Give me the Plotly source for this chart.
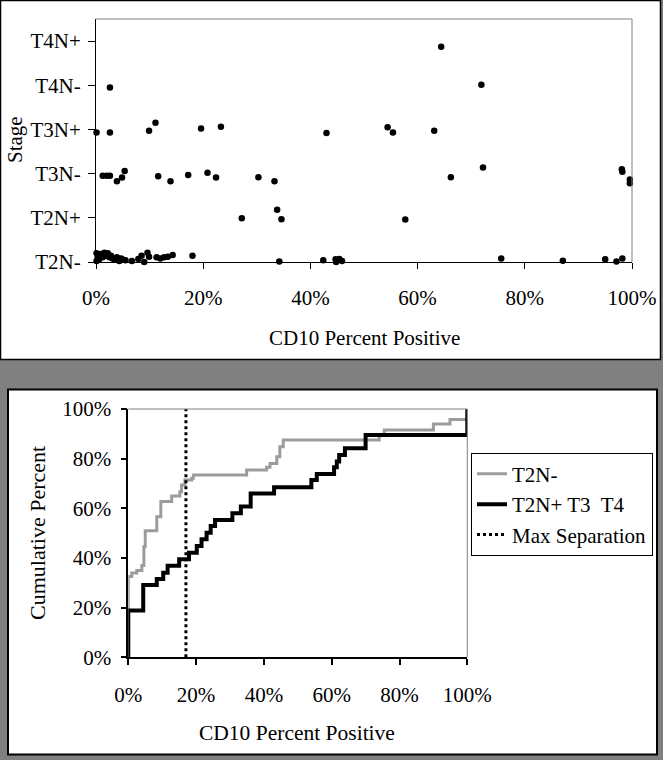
import plotly.graph_objects as go

W, H = 663, 760

# ---------------- data: top scatter ----------------
stage_labels = ["T2N-", "T2N+", "T3N-", "T3N+", "T4N-", "T4N+"]
stage_ticks = [0, 1, 2, 3, 4, 5]

# CD10 percent positive (x) and jittered stage position (y)
scatter_x = [
    # T2N-
    0.1, 0.1, 0.3, 0.6, 0.9, 1.25, 1.55, 1.9, 2.2, 2.5, 2.8, 3.1, 3.5, 3.9, 4.2, 4.35,
    4.7, 5.1, 5.5, 6.7, 7.9, 8.5, 9.0, 9.6, 9.9, 11.3, 12.0, 12.7, 13.4, 14.3, 18.0,
    19.2, 34.2, 42.4, 44.7, 44.8, 45.4, 45.9, 75.6, 77.4, 87.1, 95.0, 97.1, 98.2,
    # T2N+
    27.2, 33.8, 34.6, 57.7,
    # T3N-
    1.25, 2.0, 2.6, 3.9, 4.85, 5.35, 11.6, 13.9, 17.2, 20.8, 22.4, 30.3, 33.3, 66.2,
    72.2, 98.1, 98.2, 99.6, 99.6,
    # T3N+
    0.1, 2.6, 9.9, 11.1, 19.6, 23.3, 43.0, 54.4, 55.4, 63.1,
    # T4N-
    2.6, 71.9,
    # T4N+
    64.4,
]
scatter_y = [
    # T2N-
    0.20, 0.02, 0.12, 0.06, 0.18, 0.11, 0.21, 0.14, 0.20, 0.11, 0.14, 0.08, 0.05, 0.11,
    0.08, 0.02, 0.08, 0.05, 0.04, 0.02, 0.07, 0.14, 0.00, 0.21, 0.12, 0.11, 0.08, 0.11,
    0.12, 0.16, 0.14, -0.01, 0.01, 0.04, 0.06, 0.00, 0.07, 0.02, 0.08, -0.01, 0.03,
    0.06, 0.01, 0.08,
    # T2N+
    0.99, 1.18, 0.97, 0.96,
    # T3N-
    1.95, 1.95, 1.95, 1.83, 1.91, 2.06, 1.94, 1.83, 1.97, 2.02, 1.91, 1.92, 1.83, 1.92,
    2.14, 2.10, 2.04, 1.87, 1.78,
    # T3N+
    2.93, 2.93, 2.97, 3.15, 3.02, 3.06, 2.92, 3.05, 2.93, 2.97,
    # T4N-
    3.95, 4.01,
    # T4N+
    4.87,
]

# ---------------- data: bottom cumulative curves ----------------
pct_ticks = [0, 20, 40, 60, 80, 100]
pct_labels = ["0%", "20%", "40%", "60%", "80%", "100%"]

t2n_neg_x = [0, 0, 1.0, 2.5, 4.0, 4.6, 5.0, 8.4, 9.6, 12.8, 15.2, 15.7, 16.7, 18.7, 19.2,
             34.9, 40.8, 41.8, 43.8, 44.7, 45.7, 74.0, 75.5, 90.0, 94.9, 100]
t2n_neg_y = [0, 32.5, 34.0, 35.0, 37.0, 44.5, 51.0, 56.6, 62.7, 65.0, 66.7, 69.4, 71.4, 72.1,
             73.4, 75.4, 76.5, 78.1, 80.8, 84.8, 87.5, 89.5, 91.5, 94.0, 95.8, 95.8]

t2n_pos_x = [0, 0, 4.4, 8.4, 10.3, 11.6, 15.0, 17.9, 20.2, 21.6, 23.1, 24.3, 25.6, 30.7,
             33.2, 36.1, 43.0, 54.0, 55.6, 60.7, 61.5, 62.2, 63.9, 70.0, 100]
t2n_pos_y = [0, 18.8, 29.1, 31.5, 34.1, 36.9, 39.5, 42.1, 44.8, 47.5, 50.2, 52.9, 55.3, 58.0,
             60.7, 66.0, 68.5, 71.4, 73.8, 76.5, 78.9, 81.5, 84.2, 89.5, 100]

max_sep_x = [17.0, 17.0]
max_sep_y = [0, 100]

FONT = "Liberation Serif, 'Times New Roman', 'DejaVu Serif', serif"


def px_x(p):
    return p / W


def px_y(p):
    return 1 - p / H


fig = go.Figure()

fig.add_trace(go.Scatter(
    x=scatter_x, y=scatter_y, mode="markers", xaxis="x", yaxis="y",
    marker=dict(color="black", size=6.5), showlegend=False, cliponaxis=False,
))

fig.add_trace(go.Scatter(
    x=t2n_neg_x, y=t2n_neg_y, mode="lines", line_shape="hv", name="T2N-",
    xaxis="x2", yaxis="y2", line=dict(color="#9c9c9c", width=3),
))
fig.add_trace(go.Scatter(
    x=t2n_pos_x, y=t2n_pos_y, mode="lines", line_shape="hv", name="T2N+ T3  T4",
    xaxis="x2", yaxis="y2", line=dict(color="black", width=4),
))
fig.add_trace(go.Scatter(
    x=max_sep_x, y=max_sep_y, mode="lines", name="Max Separation",
    xaxis="x2", yaxis="y2", line=dict(color="black", width=3, dash="3px,3px"),
))

tickfont = dict(family=FONT, size=21, color="black")

top_xdom = [px_x(96), px_x(632)]
top_ydom = [px_y(262), px_y(19)]
bot_xdom = [px_x(128.3), px_x(467.3)]
bot_ydom = [px_y(657.3), px_y(409)]

common = dict(showgrid=False, zeroline=False, automargin=False)


def title_ann(text, x, y, size, angle=0):
    return dict(text=text, xref="paper", yref="paper", x=px_x(x), y=px_y(y),
                xanchor="center", yanchor="middle", textangle=angle,
                showarrow=False, font=dict(family=FONT, size=size, color="black"))


fig.update_layout(
    template="none",
    width=W, height=H,
    autosize=False,
    margin=dict(l=0, r=0, t=0, b=0, pad=0),
    paper_bgcolor="#808080",
    plot_bgcolor="white",
    font=dict(family=FONT, size=21, color="black"),
    showlegend=True,
    xaxis=dict(domain=top_xdom, anchor="y", range=[0, 100], tickmode="array",
               tickvals=pct_ticks, ticktext=pct_labels, ticks="outside", ticklen=6,
               tickcolor="black", showline=True, linecolor="black", linewidth=1,
               tickfont=tickfont, ticklabelstandoff=11, **common),
    yaxis=dict(domain=top_ydom, anchor="x", range=[0, 5.5], tickmode="array",
               tickvals=stage_ticks, ticktext=stage_labels, ticks="outside", ticklen=7,
               tickcolor="black", showline=True, linecolor="black", linewidth=1,
               tickfont=tickfont, ticklabelstandoff=3, **common),
    xaxis2=dict(domain=bot_xdom, anchor="y2", range=[0, 100], tickmode="array",
                tickvals=pct_ticks, ticktext=pct_labels, ticks="outside", ticklen=6,
                tickcolor="black", tickwidth=1.5, showline=True, linecolor="black",
                linewidth=1.5, tickfont=tickfont, ticklabelstandoff=12, **common),
    yaxis2=dict(domain=bot_ydom, anchor="x2", range=[0, 100], tickmode="array",
                tickvals=pct_ticks, ticktext=pct_labels, ticks="outside", ticklen=6,
                tickcolor="black", tickwidth=1.5, showline=True, linecolor="black",
                linewidth=1.5, tickfont=tickfont, ticklabelstandoff=5, **common),
    xaxis4=dict(overlaying="x2", anchor="y2", side="bottom", range=[0, 100],
                tickmode="array", tickvals=pct_ticks, ticks="inside", ticklen=6,
                tickcolor="black", tickwidth=1.5, showticklabels=False,
                showline=False, **common),
    yaxis4=dict(overlaying="y2", anchor="x2", side="left", range=[0, 100],
                tickmode="array", tickvals=pct_ticks, ticks="inside", ticklen=6,
                tickcolor="black", tickwidth=1.5, showticklabels=False,
                showline=False, **common),
    legend=dict(x=px_x(471), y=px_y(452.7), xanchor="left", yanchor="top",
                bgcolor="white", bordercolor="black", borderwidth=1,
                font=dict(family=FONT, size=21, color="black"),
                tracegroupgap=0),
    shapes=[
        # panel backgrounds
        dict(type="rect", xref="paper", yref="paper", layer="below",
             x0=px_x(0.5), x1=px_x(660.5), y0=px_y(359.5), y1=px_y(0.5),
             fillcolor="white", line=dict(color="black", width=1.5)),
        dict(type="rect", xref="paper", yref="paper", layer="below",
             x0=px_x(8), x1=px_x(657), y0=px_y(754.5), y1=px_y(389.5),
             fillcolor="white", line=dict(color="black", width=2)),
        # gray plot-area top/right frame lines
        dict(type="line", xref="x domain", yref="y domain", x0=0, x1=1, y0=1, y1=1,
             line=dict(color="#808080", width=1)),
        dict(type="line", xref="x domain", yref="y domain", x0=1, x1=1, y0=0, y1=1,
             line=dict(color="#808080", width=1)),
        dict(type="line", xref="x2 domain", yref="y2 domain", x0=0, x1=1, y0=1, y1=1,
             line=dict(color="#808080", width=1)),
        dict(type="line", xref="x2 domain", yref="y2 domain", x0=1, x1=1, y0=0, y1=1,
             line=dict(color="#808080", width=1)),
    ],
    annotations=[
        title_ann("Stage", 15, 140, 21, -90),
        title_ann("CD10 Percent Positive", 364, 338, 21),
        title_ann("Cumulative Percent", 37, 533, 22, -90),
        title_ann("CD10 Percent Positive", 297, 733, 21.5),
    ],
)

fig.write_html(
    "out.html",
    include_plotlyjs=True,
    config={"displayModeBar": False},
    post_script="document.body.style.margin='0';document.body.style.padding='0';"
                "document.body.style.overflow='hidden';",
)
